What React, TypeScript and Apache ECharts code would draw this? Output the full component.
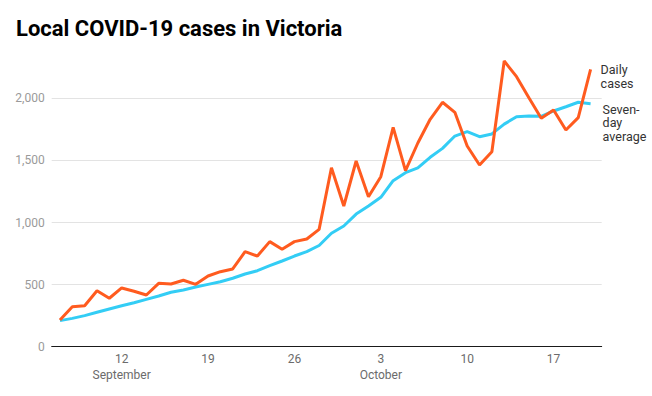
import React, { useEffect, useRef } from "react";
import * as echarts from "echarts";

// Day index 0 = 7 September, last = 20 October
const dayCount = 44;
const tickDays = [5, 12, 19, 26, 33, 40];
const tickLabels = ["12\nSeptember", "19", "26", "3\nOctober", "10", "17"];

const dailyCases = [
  215, 322, 330, 451, 390, 473, 446, 416, 510, 505, 535, 502, 569, 604, 626,
  765, 730, 846, 784, 846, 867, 945, 1441, 1133, 1495, 1208, 1369, 1766, 1417,
  1640, 1831, 1968, 1887, 1616, 1463, 1570, 2300, 2174, 2005, 1839, 1906, 1745,
  1844, 2233,
];

const sevenDayAverage = [
  210, 228, 250, 277, 304, 330, 354, 381, 408, 438, 457, 480, 502, 523, 551,
  585, 612, 652, 690, 730, 765, 815, 913, 972, 1068, 1133, 1203, 1337, 1401,
  1440, 1525, 1597, 1696, 1731, 1691, 1713, 1792, 1852, 1857, 1855, 1898, 1932,
  1968, 1957,
];

const yTicks = [0, 500, 1000, 1500, 2000];

const ORANGE = "#ff5b1f";
const CYAN = "#33cdf5";
const FONT = "Roboto, 'Noto Sans', sans-serif";

export default function App() {
  const ref = useRef<HTMLDivElement>(null);

  useEffect(() => {
    if (!ref.current) return;
    const chart = echarts.init(ref.current, null, { renderer: "svg" });
    const toPairs = (arr: number[]) => arr.map((v, i) => [i, v]);
    chart.setOption({
      animation: false,
      backgroundColor: "#ffffff",
      textStyle: { fontFamily: FONT },
      title: {
        text: "Local COVID-19 cases in Victoria",
        left: 16,
        top: 17,
        padding: 0,
        textStyle: {
          fontFamily: FONT,
          fontSize: 22,
          fontWeight: "bold",
          color: "#000000",
        },
      },
      grid: { left: 51.7, right: 50.3, top: 98.3, bottom: 49.3 },
      xAxis: {
        type: "value",
        min: -0.67,
        max: dayCount - 0.1,
        splitLine: { show: false },
        axisTick: { show: false },
        axisLine: { show: true, lineStyle: { color: "#1a1a1a", width: 1 } },
        axisLabel: {
          customValues: tickDays,
          formatter: (v: number) => {
            const i = tickDays.indexOf(Math.round(v));
            return i >= 0 ? tickLabels[i] : "";
          },
          color: "#6b6b6b",
          fontSize: 12,
          lineHeight: 16,
          margin: 4.5,
          fontFamily: FONT,
        },
      },
      yAxis: {
        type: "value",
        min: yTicks[0],
        max: yTicks[yTicks.length - 1],
        interval: 500,
        axisLine: { show: false },
        axisTick: { show: false },
        splitLine: { lineStyle: { color: "#e3e3e3", width: 1 } },
        axisLabel: {
          formatter: (v: number) => v.toLocaleString("en-US"),
          color: "#9a9a9a",
          fontSize: 12,
          margin: 7,
          fontFamily: FONT,
        },
      },
      series: [
        {
          name: "Seven-day average",
          type: "line",
          data: toPairs(sevenDayAverage),
          symbol: "none",
          clip: false,
          lineStyle: { color: CYAN, width: 3 },
          z: 2,
          endLabel: {
            show: true,
            formatter: "Seven-\nday\naverage",
            color: "#333333",
            fontSize: 12.5,
            lineHeight: 13.5,
            distance: 12,
            offset: [0, 19],
            fontFamily: FONT,
          },
        },
        {
          name: "Daily cases",
          type: "line",
          data: toPairs(dailyCases),
          symbol: "none",
          clip: false,
          lineStyle: { color: ORANGE, width: 3 },
          z: 3,
          endLabel: {
            show: true,
            formatter: "Daily\ncases",
            color: "#333333",
            fontSize: 12.5,
            lineHeight: 13.5,
            distance: 10,
            offset: [0, 7],
            fontFamily: FONT,
          },
        },
      ],
    });
    return () => chart.dispose();
  }, []);

  return (
    <div
      ref={ref}
      style={{ position: "fixed", left: 0, top: 0, width: 652, height: 396 }}
    />
  );
}
